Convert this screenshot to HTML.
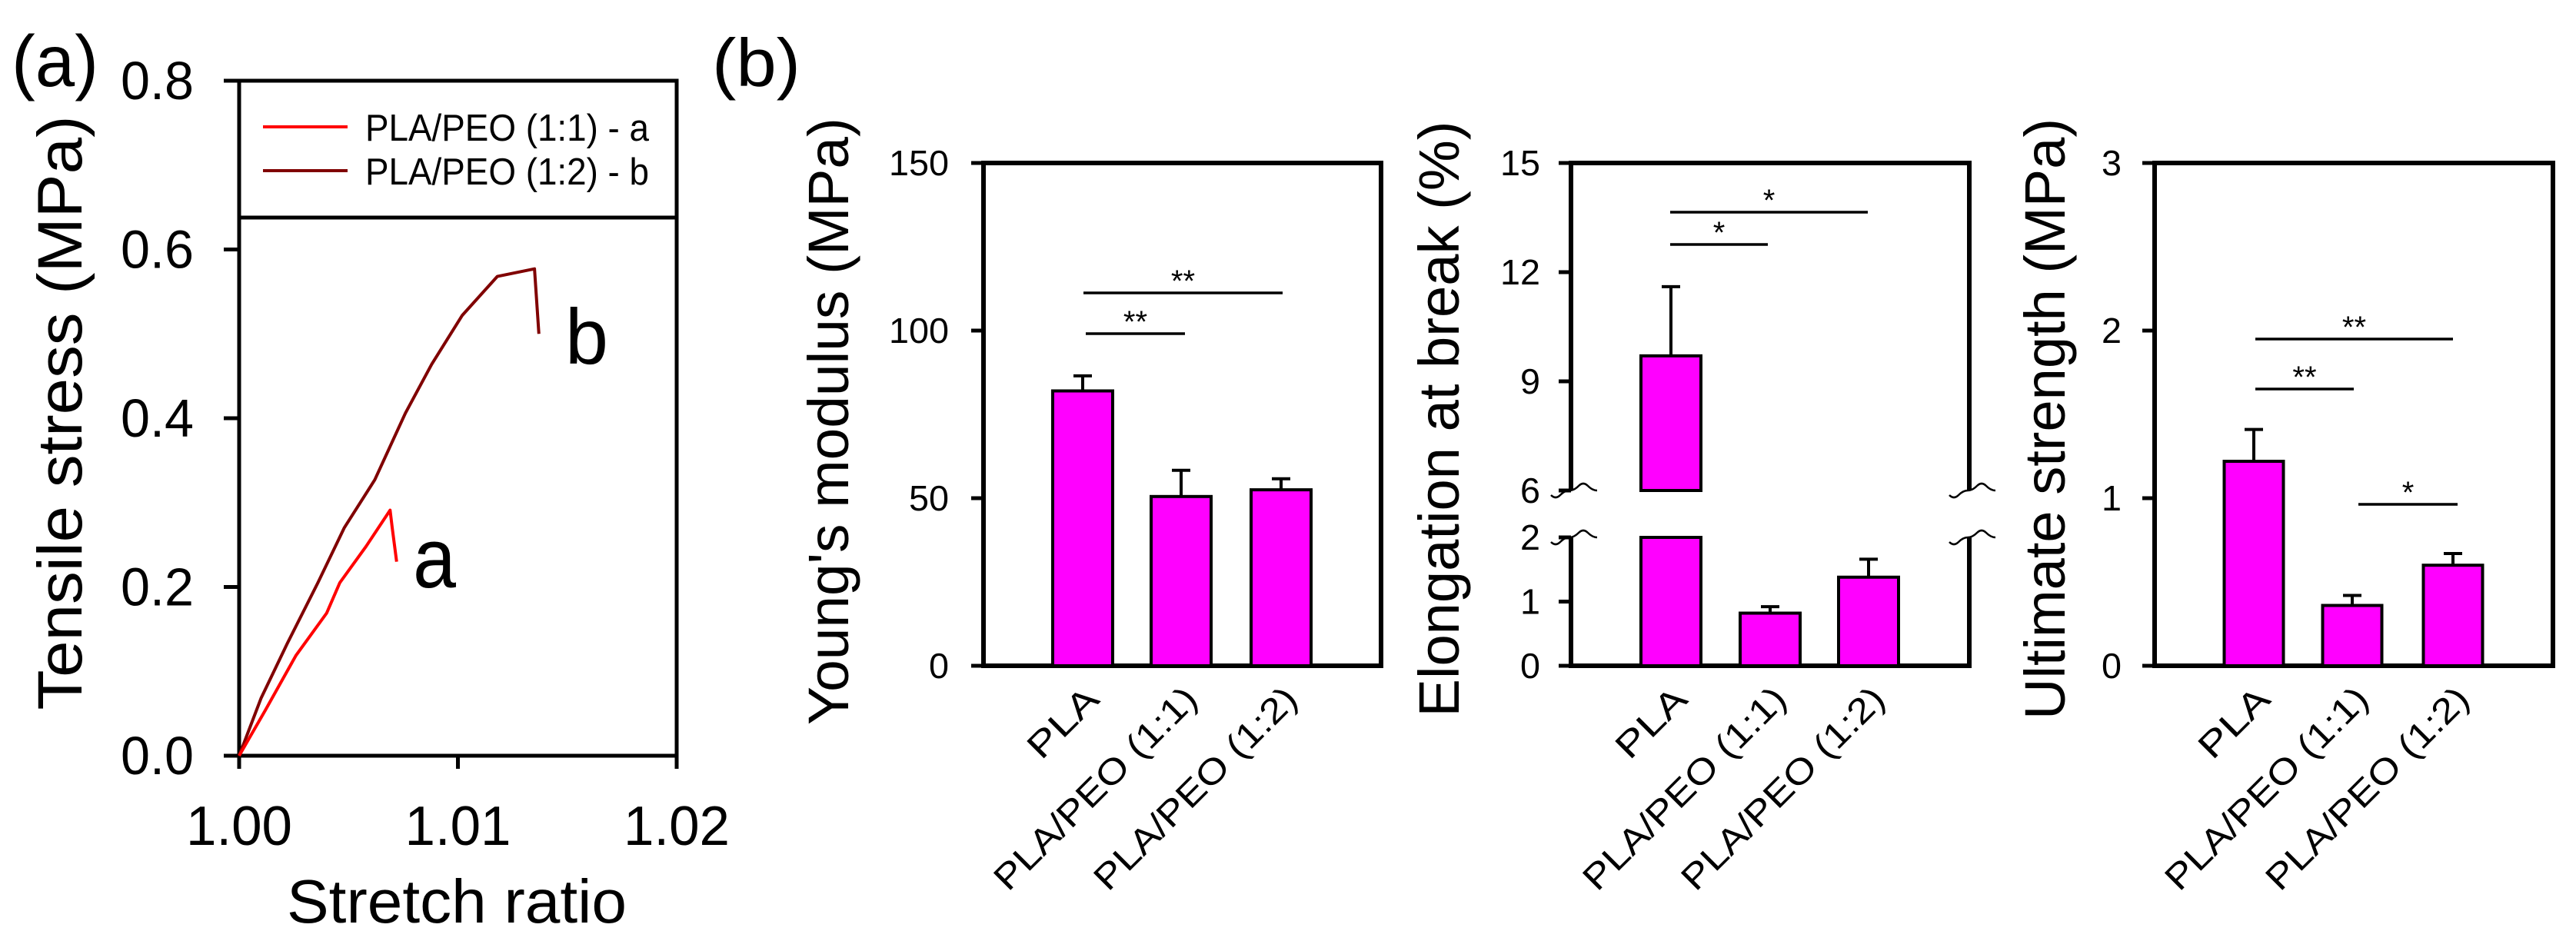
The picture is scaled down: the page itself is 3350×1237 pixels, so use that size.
<!DOCTYPE html>
<html><head><meta charset="utf-8"><style>
html,body{margin:0;padding:0;background:#fff;}
svg{display:block;font-family:"Liberation Sans",Arial,sans-serif;}
</style></head><body>
<svg id="fig" width="3350" height="1237" viewBox="0 0 3350 1237" xmlns="http://www.w3.org/2000/svg">
<rect width="3350" height="1237" fill="#fff"/>
<g id="pa"></g>
<g id="pb1"></g>
<g id="pb2"></g>
<g id="pb3"></g>
</svg>
<script>
// ---- Panel (a) data ----
const strainA = [1.0, 1.0012, 1.0026, 1.0040, 1.0046, 1.0058, 1.0069, 1.0070, 1.0072];
const stressA = [0, 0.054, 0.119, 0.169, 0.205, 0.248, 0.291, 0.270, 0.230];
const strainB = [1.0, 1.0010, 1.0022, 1.0036, 1.0048, 1.0062, 1.0076, 1.0088, 1.0102, 1.0118, 1.0135, 1.0137];
const stressB = [0, 0.068, 0.133, 0.205, 0.270, 0.327, 0.406, 0.464, 0.522, 0.568, 0.577, 0.500];
const aYTicks = [0, 0.2, 0.4, 0.6, 0.8];
const aYTickLabels = ["0.0", "0.2", "0.4", "0.6", "0.8"];
const aXTicks = [1.00, 1.01, 1.02];
const aXTickLabels = ["1.00", "1.01", "1.02"];
// ---- Panel (b) data ----
const categories = ["PLA", "PLA/PEO (1:1)", "PLA/PEO (1:2)"];
const modulusVals = [82, 50.5, 52.5];
const modulusErr = [86.5, 58.3, 55.8];
const modulusTicks = [0, 50, 100, 150];
const elongVals = [9.7, 0.82, 1.38];
const elongErr = [11.6, 0.92, 1.66];
const elongTicksLow = [0, 1, 2];
const elongTicksHigh = [6, 9, 12, 15];
const strengthVals = [1.22, 0.36, 0.60];
const strengthErr = [1.41, 0.42, 0.67];
const strengthTicks = [0, 1, 2, 3];

const NS = "http://www.w3.org/2000/svg";
function mk(parent, tag, attrs, text) {
  const e = document.createElementNS(NS, tag);
  for (const k in attrs) e.setAttribute(k, attrs[k]);
  if (text !== undefined) e.textContent = text;
  parent.appendChild(e);
  return e;
}

// ================= Panel (a) =================
const pa = document.getElementById('pa');
const aL = 311, aR = 880, aT = 105, aB = 983;
const ax = v => aL + (v - 1.0) / 0.02 * (aR - aL);
const ay = v => aB - v / 0.8 * (aB - aT);
let t = mk(pa, 'text', {x: 15, y: 112, 'font-size': 95, textLength: 113, lengthAdjust: 'spacingAndGlyphs'}, '(a)');
 
let fr = mk(pa, 'rect', {x: aL, y: aT, width: aR - aL, height: aB - aT, fill: 'none', stroke: '#000', 'stroke-width': 5});
 
aYTicks.forEach((v, i) => {
  const l = mk(pa, 'line', {x1: aL - 20, x2: aL, y1: ay(v), y2: ay(v), stroke: '#000', 'stroke-width': 5});
   
  const tx = mk(pa, 'text', {x: 252, y: ay(v) + 24, 'font-size': 70, 'text-anchor': 'end', textLength: 95, lengthAdjust: 'spacingAndGlyphs'}, aYTickLabels[i]);
   
});
aXTicks.forEach((v, i) => {
  const l = mk(pa, 'line', {x1: ax(v), x2: ax(v), y1: aB, y2: aB + 17, stroke: '#000', 'stroke-width': 5});
   
  const tx = mk(pa, 'text', {x: ax(v), y: 1099, 'font-size': 72, 'text-anchor': 'middle', textLength: 138, lengthAdjust: 'spacingAndGlyphs'}, aXTickLabels[i]);
   
});
t = mk(pa, 'text', {x: 594, y: 1200, 'font-size': 80, 'text-anchor': 'middle', textLength: 442, lengthAdjust: 'spacingAndGlyphs'}, 'Stretch ratio');
 
t = mk(pa, 'text', {x: 0, y: 0, 'font-size': 82, 'text-anchor': 'middle', textLength: 773, lengthAdjust: 'spacingAndGlyphs', transform: 'translate(106,537) rotate(-90)'}, 'Tensile stress (MPa)');
 
function curve(xs, ys, color, name) {
  const d = xs.map((x, i) => (i ? 'L' : 'M') + ax(x).toFixed(1) + ',' + ay(ys[i]).toFixed(1)).join(' ');
  const p = mk(pa, 'path', {d: d, fill: 'none', stroke: color, 'stroke-width': 4, 'stroke-linejoin': 'round'});
   
}
curve(strainB, stressB, '#800000', 'curve-pla-peo-1-2');
curve(strainA, stressA, '#ff0000', 'curve-pla-peo-1-1');
t = mk(pa, 'text', {x: 537, y: 764, 'font-size': 110, textLength: 56, lengthAdjust: 'spacingAndGlyphs'}, 'a');
 
t = mk(pa, 'text', {x: 735, y: 473, 'font-size': 102, textLength: 56, lengthAdjust: 'spacingAndGlyphs'}, 'b');
 
// legend
const lg = mk(pa, 'g', {});
 
mk(lg, 'rect', {x: aL, y: aT, width: aR - aL, height: 283 - aT, fill: '#fff', stroke: '#000', 'stroke-width': 5});
[['PLA/PEO (1:1) - a', '#ff0000', 165], ['PLA/PEO (1:2) - b', '#800000', 222]].forEach(e => {
  const g = mk(lg, 'g', {});
   
  mk(g, 'line', {x1: 342, x2: 452, y1: e[2], y2: e[2], stroke: e[1], 'stroke-width': 4});
  mk(g, 'text', {x: 475, y: e[2] + 18, 'font-size': 49, textLength: 369, lengthAdjust: 'spacingAndGlyphs'}, e[0]);
});
t = mk(document.getElementById('fig'), 'text', {x: 926, y: 112, 'font-size': 88, textLength: 115, lengthAdjust: 'spacingAndGlyphs'}, '(b)');
 

// ================= Bar panels =================
const T = 212, B = 866;
function catLabels(g, centers) {
  categories.forEach((c, i) => {
    const ex = centers[i] + 24, ey = 912;
    const tx = mk(g, 'text', {x: 0, y: 0, 'font-size': 46, 'text-anchor': 'end', textLength: i === 0 ? 110 : 352, lengthAdjust: 'spacingAndGlyphs', transform: `translate(${ex},${ey}) rotate(-45)`}, c);
     
  });
}
function bars(g, centers, vals, errs, ys, w) {
  vals.forEach((v, i) => {
    const x = centers[i] - w / 2;
    const eLine = mk(g, 'line', {x1: centers[i], x2: centers[i], y1: ys(v), y2: ys(errs[i]), stroke: '#000', 'stroke-width': 4});
     
    const cap = mk(g, 'line', {x1: centers[i] - 12, x2: centers[i] + 12, y1: ys(errs[i]), y2: ys(errs[i]), stroke: '#000', 'stroke-width': 4});
     
    const r = mk(g, 'rect', {x: x, y: ys(v), width: w, height: B - ys(v), fill: '#ff00ff', stroke: '#000', 'stroke-width': 4});
     
  });
}
function sig(g, x1, x2, y, label) {
  const l = mk(g, 'line', {x1: x1, x2: x2, y1: y, y2: y, stroke: '#000', 'stroke-width': 3.5});
   
  const s = mk(g, 'text', {x: (x1 + x2) / 2, y: y - 2, 'font-size': 40, 'text-anchor': 'middle'}, label);
   
}
function yTitle(g, x, y, len, txt) {
  const tx = mk(g, 'text', {x: 0, y: 0, 'font-size': 74, 'text-anchor': 'middle', textLength: len, lengthAdjust: 'spacingAndGlyphs', transform: `translate(${x},${y}) rotate(-90)`}, txt);
   
}
function yTick(g, axisX, y, lab, labRight) {
  const l = mk(g, 'line', {x1: axisX - 16, x2: axisX, y1: y, y2: y, stroke: '#000', 'stroke-width': 5});
   
  const tx = mk(g, 'text', {x: labRight, y: y + 16, 'font-size': 46, 'text-anchor': 'end', textLength: lab.length * 26, lengthAdjust: 'spacingAndGlyphs'}, lab);
   
}

// ---- b1: Young's modulus ----
(function () {
  const g = document.getElementById('pb1');
  const L = 1279, R = 1796;
  const ys = v => B - v / 150 * (B - T);
  const centers = [1408, 1536, 1666];
  const f = mk(g, 'rect', {x: L, y: T, width: R - L, height: B - T, fill: 'none', stroke: '#000', 'stroke-width': 6});
   
  modulusTicks.forEach(v => yTick(g, L, ys(v), String(v), 1234));
  bars(g, centers, modulusVals, modulusErr, ys, 78);
  sig(g, 1412, 1541, 434, '**');
  sig(g, 1409, 1668, 381, '**');
  catLabels(g, centers);
  yTitle(g, 1103, 548, 790, "Young's modulus (MPa)");
})();

// ---- b2: Elongation at break (broken axis) ----
(function () {
  const g = document.getElementById('pb2');
  const L = 2043, R = 2561, brHi = 638, brLo = 699;
  const ys = v => v <= 2 ? B - v / 2 * (B - brLo) : brHi - (v - 6) / 9 * (brHi - T);
  const centers = [2173, 2302, 2430];
  const fr2 = mk(g, 'path', {d: `M${L},${brHi} L${L},${T} L${R},${T} L${R},${brHi} M${L},${brLo} L${L},${B} L${R},${B} L${R},${brLo}`, fill: 'none', stroke: '#000', 'stroke-width': 6});
   
  [L, R].forEach(xx => {
    [brHi, brLo].forEach(yy => {
      const w = mk(g, 'path', {d: `M${xx - 26},${yy + 6} q6,6 12,0 t12,-6 t12,-6 t12,0 t12,6`, fill: 'none', stroke: '#000', 'stroke-width': 2.5});
       
    });
  });
  elongTicksLow.concat(elongTicksHigh).forEach(v => yTick(g, L, ys(v), String(v), 2003));
  const w = 78;
  elongVals.forEach((v, i) => {
    const c = centers[i];
    const eL = mk(g, 'line', {x1: c, x2: c, y1: ys(v), y2: ys(elongErr[i]), stroke: '#000', 'stroke-width': 4});
     
    const cap = mk(g, 'line', {x1: c - 12, x2: c + 12, y1: ys(elongErr[i]), y2: ys(elongErr[i]), stroke: '#000', 'stroke-width': 4});
     
    if (v > 2) {
      const r1 = mk(g, 'rect', {x: c - w / 2, y: ys(2), width: w, height: B - ys(2), fill: '#ff00ff', stroke: '#000', 'stroke-width': 4});
       
      const r2 = mk(g, 'rect', {x: c - w / 2, y: ys(v), width: w, height: ys(6) - ys(v), fill: '#ff00ff', stroke: '#000', 'stroke-width': 4});
       
    } else {
      const r = mk(g, 'rect', {x: c - w / 2, y: ys(v), width: w, height: B - ys(v), fill: '#ff00ff', stroke: '#000', 'stroke-width': 4});
       
    }
  });
  sig(g, 2172, 2299, 318, '*');
  sig(g, 2172, 2429, 276, '*');
  catLabels(g, centers);
  yTitle(g, 1897, 545, 775, 'Elongation at break (%)');
})();

// ---- b3: Ultimate strength ----
(function () {
  const g = document.getElementById('pb3');
  const L = 2802, R = 3320;
  const ys = v => B - v / 3 * (B - T);
  const centers = [2931, 3059, 3190];
  const f = mk(g, 'rect', {x: L, y: T, width: R - L, height: B - T, fill: 'none', stroke: '#000', 'stroke-width': 6});
   
  strengthTicks.forEach(v => yTick(g, L, ys(v), String(v), 2759));
  bars(g, centers, strengthVals, strengthErr, ys, 77);
  sig(g, 2933, 3061, 506, '**');
  sig(g, 2933, 3190, 441, '**');
  sig(g, 3067, 3196, 656, '*');
  catLabels(g, centers);
  yTitle(g, 2685, 545, 782, 'Ultimate strength (MPa)');
})();
</script>
</body></html>
